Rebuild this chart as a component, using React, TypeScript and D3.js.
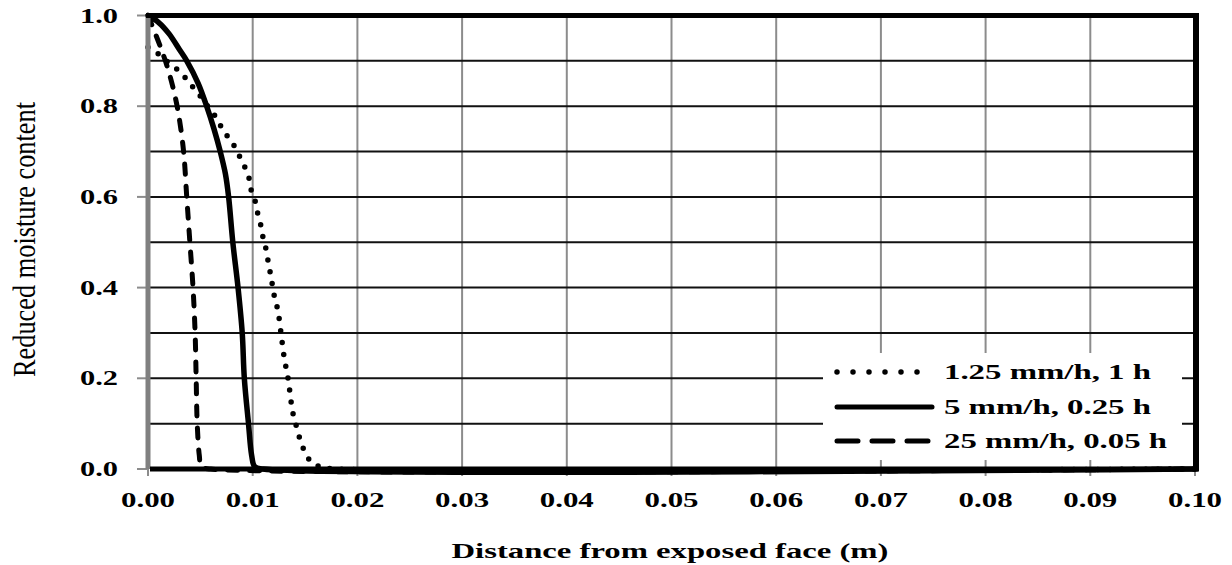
import React from "react";
import * as d3 from "d3";

const xTicks = [0, 0.01, 0.02, 0.03, 0.04, 0.05, 0.06, 0.07, 0.08, 0.09, 0.1];
const yTicks = [0, 0.2, 0.4, 0.6, 0.8, 1.0];
const yGrid = [0.1, 0.2, 0.3, 0.4, 0.5, 0.6, 0.7, 0.8, 0.9];

const seriesNames = ["1.25 mm/h, 1 h", "5 mm/h, 0.25 h", "25 mm/h, 0.05 h"];

const dotted: [number, number][] = [
  [0, 0.93], [0.001, 0.915], [0.002, 0.895], [0.0031, 0.875], [0.0039, 0.853],
  [0.0048, 0.828], [0.0057, 0.8], [0.0065, 0.775], [0.0071, 0.75], [0.0077, 0.73],
  [0.0083, 0.71], [0.0088, 0.687], [0.0093, 0.663], [0.0097, 0.637], [0.0099, 0.61],
  [0.0103, 0.586], [0.0105, 0.561], [0.0108, 0.535], [0.011, 0.509], [0.0113, 0.482],
  [0.0115, 0.454], [0.0117, 0.43], [0.0119, 0.403], [0.0121, 0.377], [0.0124, 0.35],
  [0.0127, 0.3], [0.013, 0.247], [0.0134, 0.196], [0.0137, 0.143], [0.0139, 0.117],
  [0.0142, 0.092], [0.0145, 0.067], [0.0149, 0.042], [0.0156, 0.015], [0.0166, 0.004],
  [0.018, 0], [0.1, 0],
];

const solid: [number, number][] = [
  [0, 1.0], [0.001, 0.985], [0.002, 0.96], [0.003, 0.925], [0.0037, 0.9],
  [0.0048, 0.85], [0.0056, 0.8], [0.0063, 0.75], [0.0069, 0.7], [0.0074, 0.65],
  [0.0077, 0.6], [0.0081, 0.5], [0.0086, 0.4], [0.009, 0.3], [0.0092, 0.2],
  [0.0096, 0.1], [0.0099, 0.03], [0.0102, 0.005], [0.011, 0], [0.1, 0],
];

const dashed: [number, number][] = [
  [0, 1.0], [0.0007, 0.96], [0.0012, 0.93], [0.0018, 0.89], [0.0024, 0.84],
  [0.0029, 0.785], [0.0034, 0.7], [0.0037, 0.6], [0.004, 0.5], [0.0043, 0.4],
  [0.0045, 0.3], [0.0046, 0.2], [0.0047, 0.1], [0.0049, 0.03], [0.0051, 0.005],
  [0.006, 0], [0.1, 0],
];

const FONT = "\"Liberation Serif\", \"Times New Roman\", Times, serif";

export default function App() {
  const x = d3.scaleLinear().domain([0, 0.1]).range([148, 1195]);
  const y = d3.scaleLinear().domain([0, 1]).range([469, 15.5]);
  const line = d3
    .line<[number, number]>()
    .x((d) => x(d[0]))
    .y((d) => y(d[1]))
    .curve(d3.curveCatmullRom.alpha(0.5));

  const styles = [
    { dash: "0 12", width: 5.5, legDash: "0 16" },
    { dash: undefined, width: 5.5, legDash: undefined },
    { dash: "10 12", width: 5, legDash: "21 14" },
  ];
  const data = [dotted, solid, dashed];
  const legendRows = [372, 407, 441];
  const legendWidths = [207, 207, 223];
  const textStyle = { fontFamily: FONT } as React.CSSProperties;

  return (
    <svg
      width={1232}
      height={565}
      style={{ position: "absolute", left: 0, top: 0, background: "#fff", fontFamily: FONT }}
    >
      <rect x={0} y={0} width={1232} height={565} fill="#fff" />
      {xTicks.slice(1, -1).map((t) => (
        <line key={"vx" + t} x1={x(t)} x2={x(t)} y1={y(1)} y2={y(0)} stroke="#8c8c8c" strokeWidth={2} />
      ))}
      {yGrid.map((t) => (
        <line key={"hy" + t} x1={x(0)} x2={x(0.1)} y1={y(t)} y2={y(t)} stroke="#111" strokeWidth={2} />
      ))}
      {xTicks.map((t) => (
        <line key={"xt" + t} x1={x(t)} x2={x(t)} y1={y(0)} y2={y(0) + 7} stroke="#8c8c8c" strokeWidth={2} />
      ))}
      {yTicks.map((t) => (
        <line key={"yt" + t} x1={x(0) - 11} x2={x(0)} y1={y(t)} y2={y(t)} stroke="#8c8c8c" strokeWidth={2} />
      ))}
      {data.map((d, i) => (
        <path
          key={"s" + i}
          d={line(d) || ""}
          fill="none"
          stroke="#000"
          strokeWidth={styles[i].width}
          strokeDasharray={styles[i].dash}
          strokeLinecap="round"
          strokeLinejoin="round"
        />
      ))}
      <rect x={823} y={353} width={359} height={107} fill="#fff" />
      {seriesNames.map((name, i) => (
        <g key={"lg" + i}>
          <line
            x1={837}
            x2={i === 0 ? 918 : 932}
            y1={legendRows[i]}
            y2={legendRows[i]}
            stroke="#000"
            strokeWidth={i === 0 ? 5.5 : 5}
            strokeDasharray={styles[i].legDash}
            strokeLinecap="round"
          />
          <text
            x={944}
            y={legendRows[i] + 6.5}
            fontSize={21}
            fontWeight="bold"
            style={textStyle}
            textLength={legendWidths[i]}
            lengthAdjust="spacingAndGlyphs"
          >
            {name}
          </text>
        </g>
      ))}
      <line x1={x(0)} x2={x(0)} y1={y(1)} y2={y(0)} stroke="#808080" strokeWidth={5} />
      <line x1={x(0) - 2} x2={x(0.1) + 3} y1={y(1)} y2={y(1)} stroke="#000" strokeWidth={5} />
      <line x1={x(0.1) + 1} x2={x(0.1) + 1} y1={y(1) - 2.5} y2={y(0) + 2.5} stroke="#000" strokeWidth={6} />
      <line x1={x(0) + 2} x2={x(0.1) + 3} y1={y(0)} y2={y(0)} stroke="#000" strokeWidth={5} />
      {xTicks.map((t) => (
        <text
          key={"xl" + t}
          x={x(t)}
          y={507}
          fontSize={21}
          fontWeight="bold"
          style={textStyle}
          textAnchor="middle"
          textLength={54}
          lengthAdjust="spacingAndGlyphs"
        >
          {d3.format(".2f")(t)}
        </text>
      ))}
      {yTicks.map((t) => (
        <text
          key={"yl" + t}
          x={118}
          y={y(t) + 7}
          fontSize={21}
          fontWeight="bold"
          style={textStyle}
          textAnchor="end"
          textLength={38}
          lengthAdjust="spacingAndGlyphs"
        >
          {d3.format(".1f")(t)}
        </text>
      ))}
      <text
        x={670}
        y={558}
        fontSize={22}
        fontWeight="bold"
        style={textStyle}
        textAnchor="middle"
        textLength={437}
        lengthAdjust="spacingAndGlyphs"
      >
        Distance from exposed face (m)
      </text>
      <text
        transform="translate(35,239.5) scale(1.5,1) rotate(-90)"
        x={0}
        y={0}
        fontSize={21}
        style={textStyle}
        textAnchor="middle"
        textLength={275}
        lengthAdjust="spacingAndGlyphs"
      >
        Reduced moisture content
      </text>
    </svg>
  );
}
